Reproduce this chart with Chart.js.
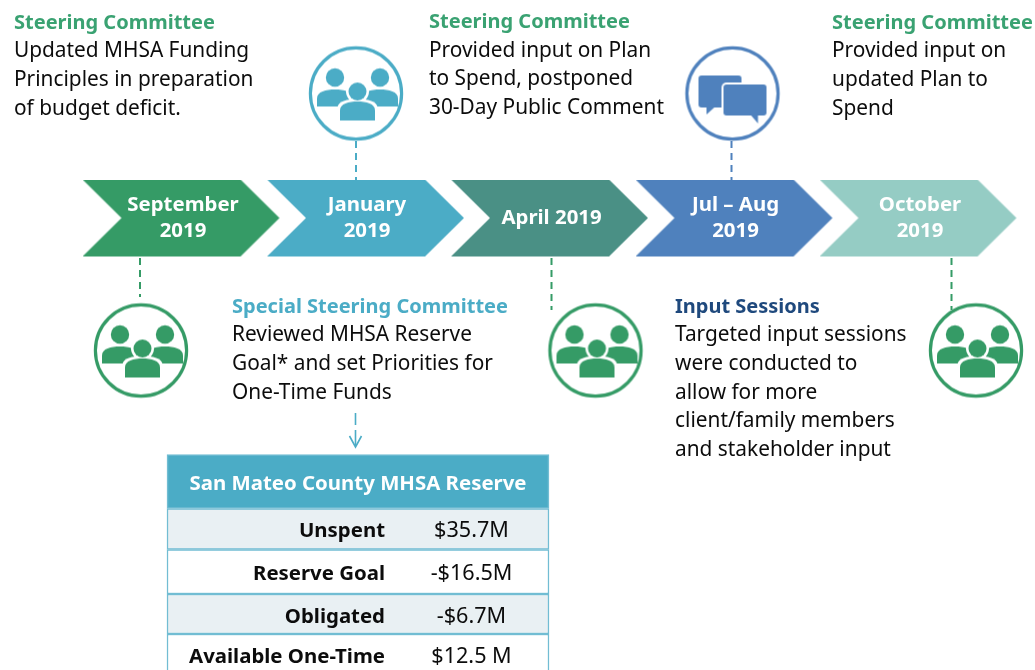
<!DOCTYPE html>
<html>
<head>
<meta charset="utf-8">
<title>MHSA Timeline</title>
<script src="https://cdn.jsdelivr.net/npm/chart.js@4/dist/chart.umd.min.js"></script>
<style>
    html, body { margin: 0; padding: 0; background: #ffffff; }
    canvas { display: block; }
</style>
</head>
<body>
<canvas id="timeline" width="1035" height="670"></canvas>
<script>
// Data
const stageLabels = [['September', '2019'], ['January', '2019'], ['April 2019'], ['Jul – Aug', '2019'], ['October', '2019']];
const stageIcons = ['people', 'people', 'people', 'chat', 'people'];
const noteHeadings = ['Steering Committee', 'Steering Committee', 'Steering Committee', 'Special Steering Committee', 'Input Sessions'];
const noteLines = [
    ['Updated MHSA Funding', 'Principles in preparation', 'of budget deficit.'],
    ['Provided input on Plan', 'to Spend, postponed', '30-Day Public Comment'],
    ['Provided input on', 'updated Plan to', 'Spend'],
    ['Reviewed MHSA Reserve', 'Goal* and set Priorities for', 'One-Time Funds'],
    ['Targeted input sessions', 'were conducted to', 'allow for more', 'client/family members', 'and stakeholder input']
];
const tableTitle = 'San Mateo County MHSA Reserve';
const tableLabels = ['Unspent', 'Reserve Goal', 'Obligated', 'Available One-Time'];
const tableValues = ['$35.7M', '-$16.5M', '-$6.7M', '$12.5 M'];

// Colors
const colors = {
    green: '#359b66',
    teal: '#4bacc6',
    sea: '#4a9085',
    blue: '#4f81bd',
    mint: '#95ccc4',
    greenText: '#3aa272',
    navy: '#1f497d',
    ink: '#0c0c0c',
    rowTint: '#e9f0f3',
    rowLine: '#72bdd3'
};
const stageColors = [colors.green, colors.teal, colors.sea, colors.blue, colors.mint];
const iconColors = [colors.green, colors.teal, colors.green, colors.blue, colors.green];

// Layout, in page pixels (both scales run 0-1035 and 0-670)
const chevron = { w: 198, h: 78, cy: 218.5, notch: 39 };
const chevronX = [181.5, 366, 550, 734.5, 918.5];
const stageTextX = [183, 367, 551.5, 735.5, 920];
const iconX = [141, 356, 595.5, 732.5, 976];
const iconY = [350.5, 93.5, 350.5, 93.5, 350.5];
const dashX = [140, 356, 551.5, 731.5, 951.5];
const dashY = [[258, 297], [141, 180], [258, 310], [141, 180], [258, 310]];
const noteX = [14, 429, 832, 232, 675];
const noteY = [28.5, 28, 28.5, 312.5, 312.5];
const notePitch = 28.7;
const noteHeadColors = [colors.greenText, colors.greenText, colors.greenText, colors.teal, colors.navy];
const tableX = 358, tableW = 382;
const rowEdges = [454.5, 508.5, 549.5, 594, 634, 676];
const rowTextY = [537, 580, 622.5, 662.5];

const bodyFont = '20.85px "Noto Sans"';
const headFont = 'bold 20px "Noto Sans"';
const boldFont = 'bold 20.4px "Noto Sans"';
const valueFont = '21.6px "Noto Sans"';

function makeCanvas(w, h) {
    const c = document.createElement('canvas');
    c.width = w;
    c.height = h;
    return c;
}

function chevronImage(color) {
    const c = makeCanvas(chevron.w, chevron.h);
    const ctx = c.getContext('2d');
    const h = chevron.h - 1;
    ctx.fillStyle = color;
    ctx.beginPath();
    ctx.moveTo(0, 0);
    ctx.lineTo(chevron.w - chevron.notch - 1, 0);
    ctx.lineTo(chevron.w - 1, h / 2);
    ctx.lineTo(chevron.w - chevron.notch - 1, h);
    ctx.lineTo(0, h);
    ctx.lineTo(chevron.notch, h / 2);
    ctx.closePath();
    ctx.fill();
    return c;
}

function drawFigure(ctx, x, halfW, topY, bottomY) {
    ctx.beginPath();
    ctx.moveTo(x - halfW, bottomY);
    ctx.lineTo(x - halfW, topY + 9);
    ctx.bezierCurveTo(x - halfW, topY + 2, x - halfW * 0.5, topY, x, topY);
    ctx.bezierCurveTo(x + halfW * 0.5, topY, x + halfW, topY + 2, x + halfW, topY + 9);
    ctx.lineTo(x + halfW, bottomY);
    ctx.closePath();
}

function drawPeople(ctx, color) {
    ctx.fillStyle = color;
    ctx.translate(1.5, 0);
    [-22.5, 22.5].forEach(x => {
        ctx.beginPath();
        ctx.arc(x, -16, 9.2, 0, Math.PI * 2);
        ctx.fill();
        drawFigure(ctx, x, 18, -4, 13);
        ctx.fill();
    });
    // front figure sits on a white halo
    ctx.fillStyle = '#ffffff';
    ctx.beginPath();
    ctx.arc(0, -2, 11.5, 0, Math.PI * 2);
    ctx.fill();
    drawFigure(ctx, 0, 20, 5.5, 29);
    ctx.fill();
    ctx.fillStyle = color;
    ctx.beginPath();
    ctx.arc(0, -2, 9, 0, Math.PI * 2);
    ctx.fill();
    drawFigure(ctx, 0, 17.5, 8, 27);
    ctx.fill();
}

// rounded box and its tail are filled apart so the overlap stays solid
function drawBubble(ctx, x, y, w, h, tail) {
    ctx.beginPath();
    ctx.roundRect(x, y, w, h, 3);
    ctx.fill();
    ctx.beginPath();
    ctx.moveTo(tail[0], y + h - 2);
    ctx.lineTo(tail[1], tail[2]);
    ctx.lineTo(tail[3], y + h - 2);
    ctx.closePath();
    ctx.fill();
}

function drawChat(ctx, color) {
    ctx.fillStyle = color;
    drawBubble(ctx, -34, -18, 43, 32, [-26, -26, 21, -16]);
    ctx.fillStyle = '#ffffff';
    ctx.beginPath();
    ctx.roundRect(-11, -11, 47, 35, 5);
    ctx.fill();
    ctx.fillStyle = color;
    drawBubble(ctx, -9, -9, 43, 31, [17, 25.5, 30, 25.5]);
}

function iconImage(kind, color) {
    const size = 100;
    const c = makeCanvas(size, size);
    const ctx = c.getContext('2d');
    ctx.translate(size / 2, size / 2);
    ctx.strokeStyle = color;
    ctx.lineWidth = 3.2;
    ctx.beginPath();
    ctx.arc(0, 0, 45.6, 0, Math.PI * 2);
    ctx.stroke();
    if (kind === 'chat') drawChat(ctx, color);
    else drawPeople(ctx, color);
    return c;
}

// Text layer, runs after the marks
const textPlugin = {
    id: 'timelineText',
    afterDatasetsDraw(chart) {
        const ctx = chart.ctx;
        const x = chart.scales.x;
        const y = chart.scales.y;
        ctx.save();
        ctx.textBaseline = 'alphabetic';

        // chevron labels
        ctx.font = boldFont;
        ctx.fillStyle = '#ffffff';
        ctx.textAlign = 'center';
        stageLabels.forEach((lines, i) => {
            const base = lines.length === 1 ? [224] : [211, 237];
            lines.forEach((t, j) => ctx.fillText(t, x.getPixelForValue(stageTextX[i]), y.getPixelForValue(base[j])));
        });

        // notes
        ctx.textAlign = 'left';
        noteHeadings.forEach((h, i) => {
            ctx.font = headFont;
            ctx.fillStyle = noteHeadColors[i];
            ctx.fillText(h, x.getPixelForValue(noteX[i]), y.getPixelForValue(noteY[i]));
            ctx.font = bodyFont;
            ctx.fillStyle = colors.ink;
            noteLines[i].forEach((t, j) => {
                ctx.fillText(t, x.getPixelForValue(noteX[i]), y.getPixelForValue(noteY[i] + notePitch * (j + 1)));
            });
        });

        // table
        ctx.font = boldFont;
        ctx.fillStyle = '#ffffff';
        ctx.textAlign = 'center';
        ctx.fillText(tableTitle, x.getPixelForValue(tableX), y.getPixelForValue(490));
        tableLabels.forEach((t, i) => {
            ctx.font = boldFont;
            ctx.fillStyle = colors.ink;
            ctx.textAlign = 'right';
            ctx.fillText(t, x.getPixelForValue(385), y.getPixelForValue(rowTextY[i]));
            ctx.font = valueFont;
            ctx.textAlign = 'center';
            ctx.fillText(tableValues[i], x.getPixelForValue(471.5), y.getPixelForValue(rowTextY[i]));
        });
        ctx.restore();
    }
};

function lineDataset(points, color, width, dash) {
    return {
        type: 'line',
        data: points,
        borderColor: color,
        borderWidth: width,
        borderDash: dash,
        pointRadius: 0,
        fill: false,
        tension: 0
    };
}

const connectorSets = dashX.map((px, i) => lineDataset(
    [{ x: px, y: dashY[i][0] }, { x: px, y: dashY[i][1] }], iconColors[i], 2, [7, 5]
));

const tableRows = rowEdges.slice(0, -1).map((top, i) => ({ x: tableX, y: [top, rowEdges[i + 1]] }));
const rowFills = [colors.teal, colors.rowTint, '#ffffff', colors.rowTint, '#ffffff'];

new Chart(document.getElementById('timeline'), {
    type: 'scatter',
    data: {
        datasets: [
            ...connectorSets,
            lineDataset([{ x: 355.5, y: 413 }, { x: 355.5, y: 425 }], colors.teal, 1.6, []),
            lineDataset([{ x: 355.5, y: 430 }, { x: 355.5, y: 446 }], colors.teal, 1.6, []),
            lineDataset([{ x: 349.5, y: 436 }, { x: 355.5, y: 447 }, { x: 361.5, y: 436 }], colors.teal, 1.6, []),
            {
                type: 'bar',
                data: tableRows,
                backgroundColor: rowFills,
                borderColor: colors.rowLine,
                borderWidth: 1.5,
                borderSkipped: false,
                barThickness: tableW
            },
            {
                data: chevronX.map(px => ({ x: px, y: chevron.cy })),
                pointStyle: stageColors.map(chevronImage),
                pointRadius: 10
            },
            {
                data: iconX.map((px, i) => ({ x: px, y: iconY[i] })),
                pointStyle: stageIcons.map((kind, i) => iconImage(kind, iconColors[i])),
                pointRadius: 10
            }
        ]
    },
    options: {
        responsive: false,
        animation: false,
        layout: { padding: 0, autoPadding: false },
        scales: {
            x: { type: 'linear', min: 0, max: 1035, offset: false, display: false },
            y: { type: 'linear', min: 0, max: 670, reverse: true, offset: false, display: false }
        },
        plugins: { legend: { display: false }, tooltip: { enabled: false } }
    },
    plugins: [textPlugin]
});
</script>
</body>
</html>
